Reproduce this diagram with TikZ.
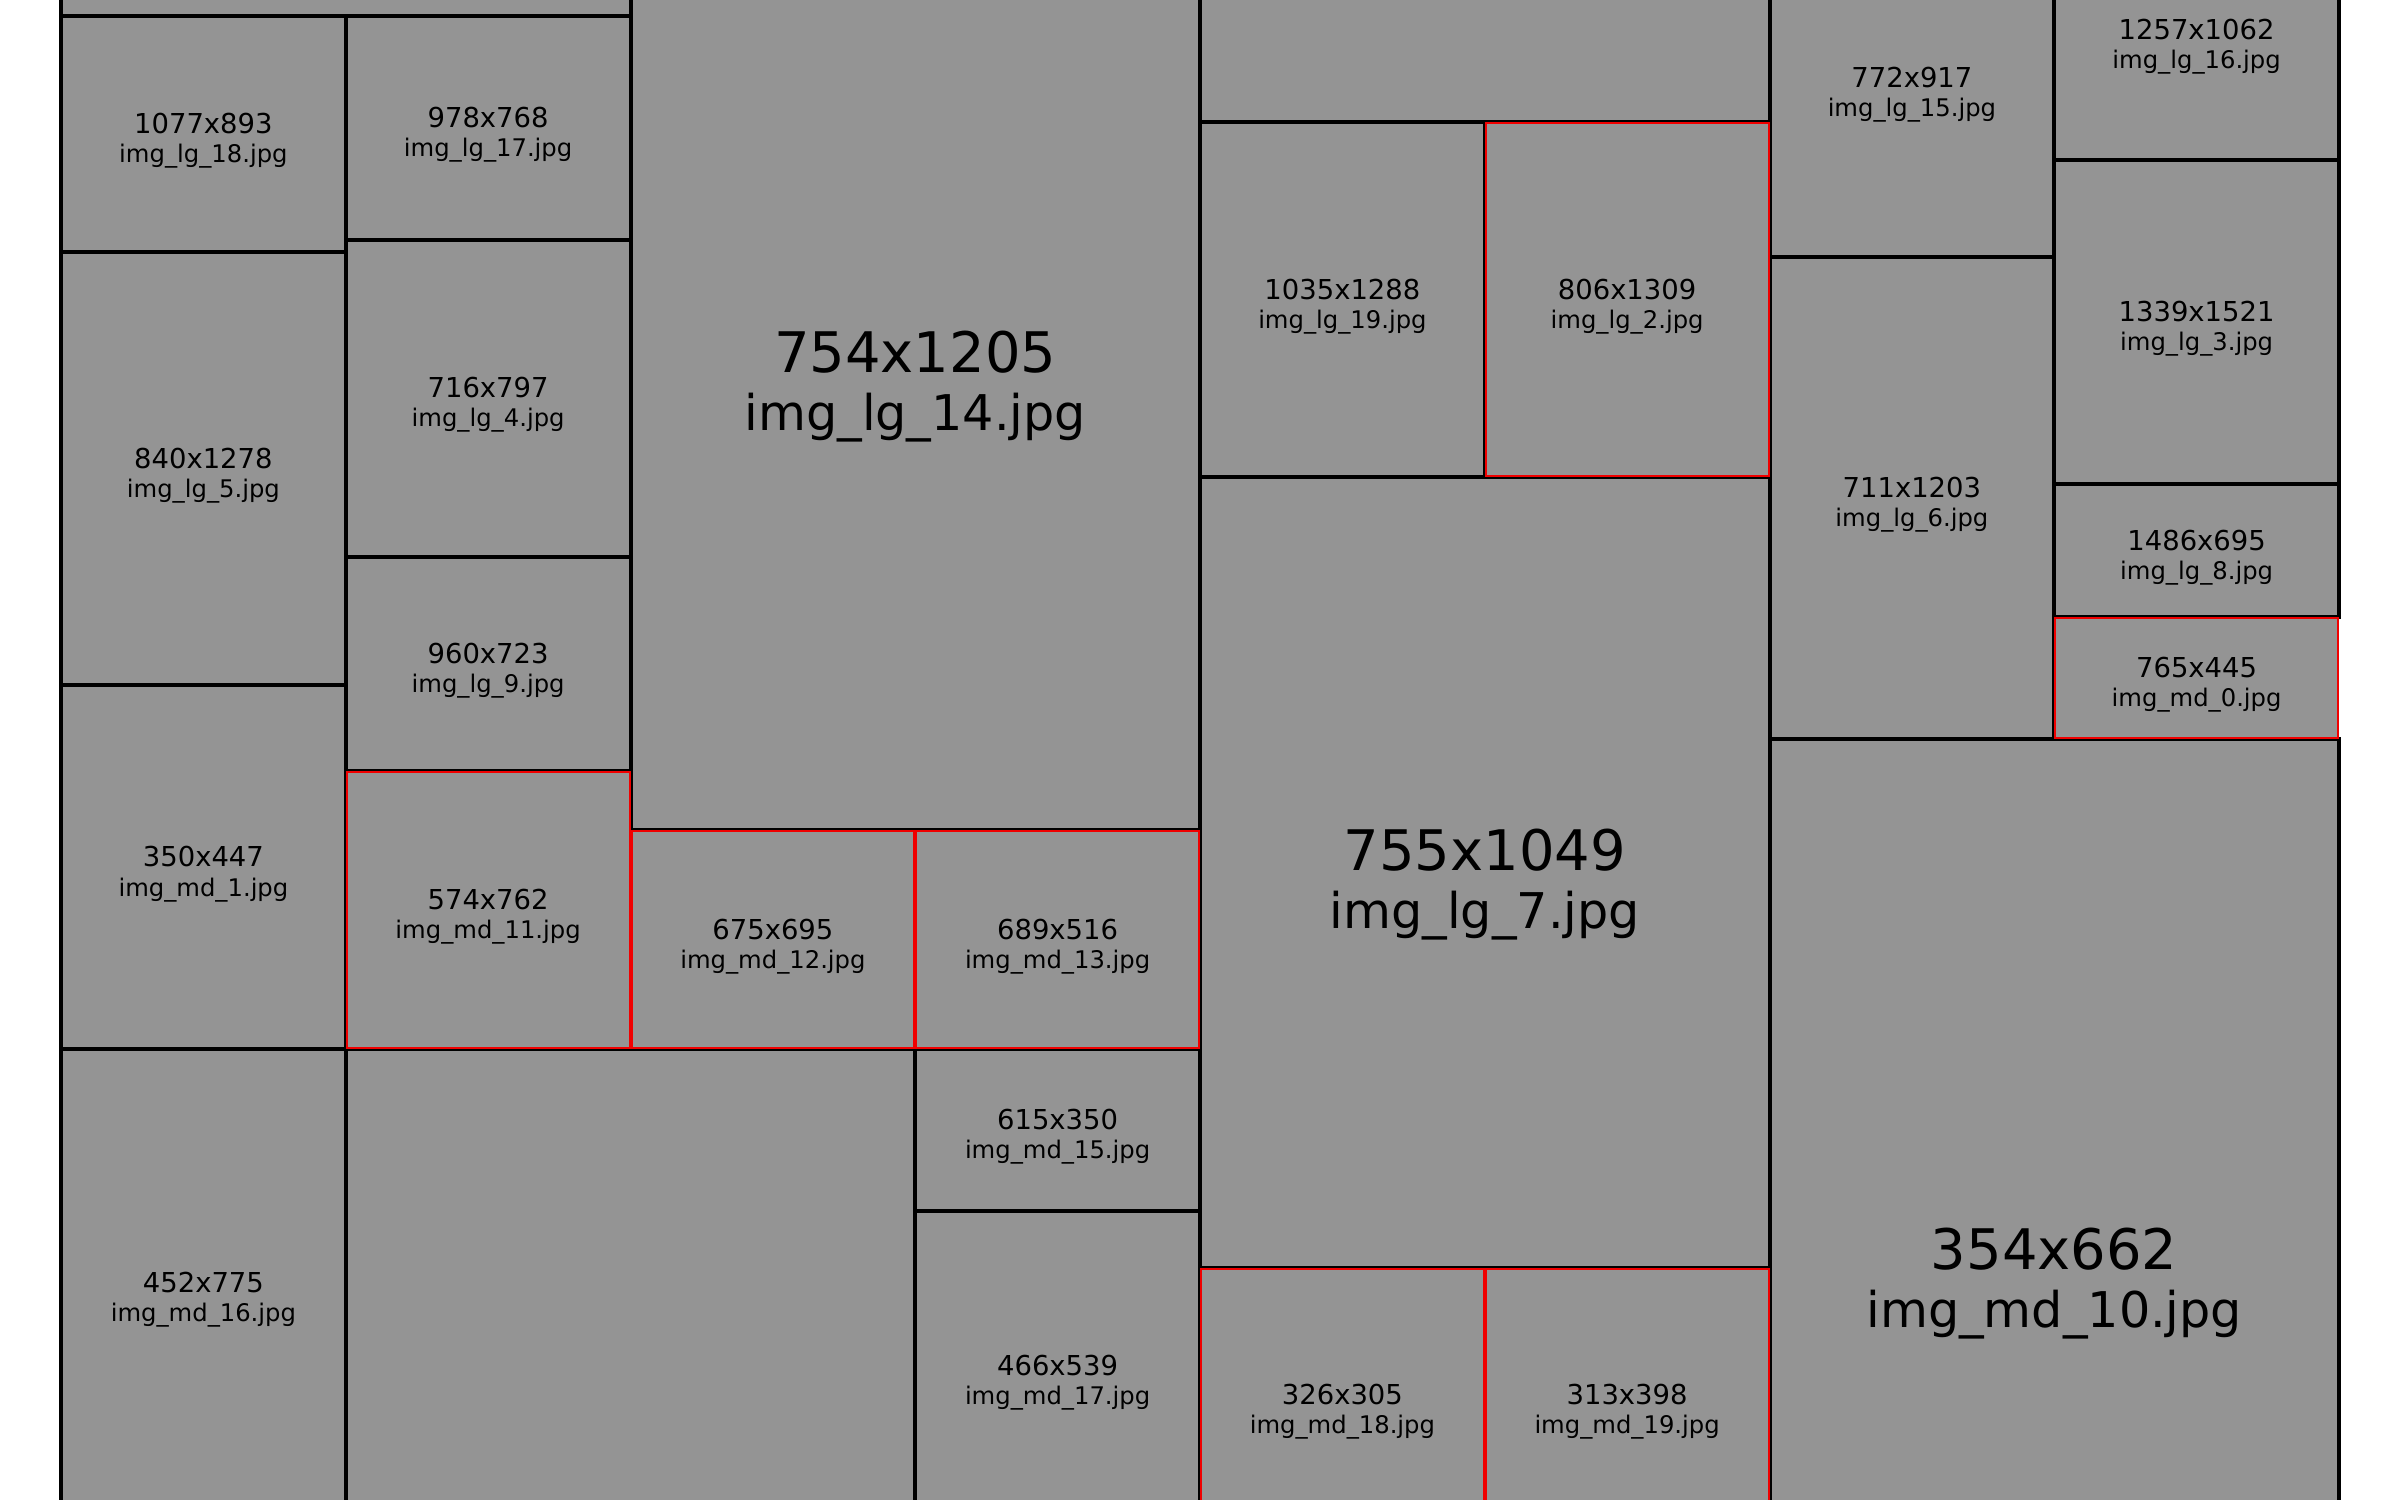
\documentclass[tikz,border=0pt]{standalone}
\usepackage{fontspec}
\setmainfont{DejaVu Sans}
\usepackage{xcolor}

\begin{document}
\begin{tikzpicture}[x=0.01cm,y=-0.01cm,
    tile/.style={fill=tilegray,draw=black,line width=0.04cm},
    croptile/.style={fill=tilegray,draw=cropred,line width=0.02cm},
    lbl/.style={align=center,inner sep=0pt,yshift=-0.069cm,font=\fontsize{7.8}{8.3}\selectfont},
    biglbl/.style={align=center,inner sep=0pt,yshift=-0.122cm,font=\fontsize{15.9}{16.5}\selectfont}]

  % Define colors
  \definecolor{tilegray}{RGB}{148,148,148}
  \definecolor{cropred}{RGB}{240,0,0}

  % page, clipped like the screenshot
  \clip (0,0) rectangle (2390,1500);

  % column 1
  \draw[tile] (61,-300) rectangle (630.5,16);
  \draw[tile] (61,16) rectangle (345.75,252.1);
  \node[lbl] (lg18) at (203.4,134.1) {1077x893\\\fontsize{6.9}{8.3}\selectfont img\_lg\_18.jpg};
  \draw[tile] (61,252.1) rectangle (345.75,685.3);
  \node[lbl] (lg5) at (203.4,468.7) {840x1278\\\fontsize{6.9}{8.3}\selectfont img\_lg\_5.jpg};
  \draw[tile] (61,685.3) rectangle (345.75,1049);
  \node[lbl] (md1) at (203.4,867.2) {350x447\\\fontsize{6.9}{8.3}\selectfont img\_md\_1.jpg};
  \draw[tile] (61,1049) rectangle (345.75,1537.2);
  \node[lbl] (md16) at (203.4,1293.1) {452x775\\\fontsize{6.9}{8.3}\selectfont img\_md\_16.jpg};

  % column 2
  \draw[tile] (345.75,16) rectangle (630.5,239.6);
  \node[lbl] (lg17) at (488.1,127.8) {978x768\\\fontsize{6.9}{8.3}\selectfont img\_lg\_17.jpg};
  \draw[tile] (345.75,239.6) rectangle (630.5,556.6);
  \node[lbl] (lg4) at (488.1,398.1) {716x797\\\fontsize{6.9}{8.3}\selectfont img\_lg\_4.jpg};
  \draw[tile] (345.75,556.6) rectangle (630.5,771.1);
  \node[lbl] (lg9) at (488.1,663.9) {960x723\\\fontsize{6.9}{8.3}\selectfont img\_lg\_9.jpg};
  \draw[tile] (345.75,1049) rectangle (915.25,1800);

  % columns 3 and 4
  \draw[tile] (630.5,-80.5) rectangle (1200,829.7);
  \node[biglbl] (lg14) at (915.25,374.6) {754x1205\\\fontsize{14}{16.5}\selectfont img\_lg\_14.jpg};
  \draw[tile] (915.25,1049) rectangle (1200,1211);
  \node[lbl] (md15) at (1057.6,1130) {615x350\\\fontsize{6.9}{8.3}\selectfont img\_md\_15.jpg};
  \draw[tile] (915.25,1211) rectangle (1200,1540.4);
  \node[lbl] (md17) at (1057.6,1375.7) {466x539\\\fontsize{6.9}{8.3}\selectfont img\_md\_17.jpg};

  % columns 5 and 6
  \draw[tile] (1200,-400) rectangle (1769.5,122.2);
  \draw[tile] (1200,122.2) rectangle (1484.75,476.6);
  \node[lbl] (lg19) at (1342.4,299.4) {1035x1288\\\fontsize{6.9}{8.3}\selectfont img\_lg\_19.jpg};
  \draw[tile] (1200,476.6) rectangle (1769.5,1267.9);
  \node[biglbl] (lg7) at (1484.75,872.3) {755x1049\\\fontsize{14}{16.5}\selectfont img\_lg\_7.jpg};

  % columns 7 and 8
  \draw[tile] (1769.5,-81) rectangle (2054.25,257.2);
  \node[lbl] (lg15) at (1911.9,88.1) {772x917\\\fontsize{6.9}{8.3}\selectfont img\_lg\_15.jpg};
  \draw[tile] (1769.5,257.2) rectangle (2054.25,739);
  \node[lbl] (lg6) at (1911.9,498.1) {711x1203\\\fontsize{6.9}{8.3}\selectfont img\_lg\_6.jpg};
  \draw[tile] (2054.25,-80.3) rectangle (2339,160.3);
  \node[lbl] (lg16) at (2196.6,40) {1257x1062\\\fontsize{6.9}{8.3}\selectfont img\_lg\_16.jpg};
  \draw[tile] (2054.25,160.3) rectangle (2339,483.8);
  \node[lbl] (lg3) at (2196.6,322.1) {1339x1521\\\fontsize{6.9}{8.3}\selectfont img\_lg\_3.jpg};
  \draw[tile] (2054.25,483.8) rectangle (2339,617);
  \node[lbl] (lg8) at (2196.6,550.4) {1486x695\\\fontsize{6.9}{8.3}\selectfont img\_lg\_8.jpg};
  \draw[tile] (1769.5,739) rectangle (2339,1804);
  \node[biglbl] (md10) at (2054.25,1271.5) {354x662\\\fontsize{14}{16.5}\selectfont img\_md\_10.jpg};

  % cropped tiles, red outline on the inner side
  \draw[croptile] (346.75,772.1) rectangle (629.5,1048);
  \node[lbl] (md11) at (488.1,910.1) {574x762\\\fontsize{6.9}{8.3}\selectfont img\_md\_11.jpg};
  \draw[croptile] (631.5,830.7) rectangle (914.25,1048);
  \node[lbl] (md12) at (772.9,939.4) {675x695\\\fontsize{6.9}{8.3}\selectfont img\_md\_12.jpg};
  \draw[croptile] (916.25,830.7) rectangle (1199,1048);
  \node[lbl] (md13) at (1057.6,939.4) {689x516\\\fontsize{6.9}{8.3}\selectfont img\_md\_13.jpg};
  \draw[croptile] (1485.75,123.2) rectangle (1768.5,475.6);
  \node[lbl] (lg2) at (1627.1,299.4) {806x1309\\\fontsize{6.9}{8.3}\selectfont img\_lg\_2.jpg};
  \draw[croptile] (1201,1268.9) rectangle (1483.75,1541);
  \node[lbl] (md18) at (1342.4,1404.5) {326x305\\\fontsize{6.9}{8.3}\selectfont img\_md\_18.jpg};
  \draw[croptile] (1485.75,1268.9) rectangle (1768.5,1541);
  \node[lbl] (md19) at (1627.1,1404.5) {313x398\\\fontsize{6.9}{8.3}\selectfont img\_md\_19.jpg};
  \draw[croptile] (2055.25,618) rectangle (2338,738);
  \node[lbl] (md0) at (2196.6,678) {765x445\\\fontsize{6.9}{8.3}\selectfont img\_md\_0.jpg};

\end{tikzpicture}
\end{document}
